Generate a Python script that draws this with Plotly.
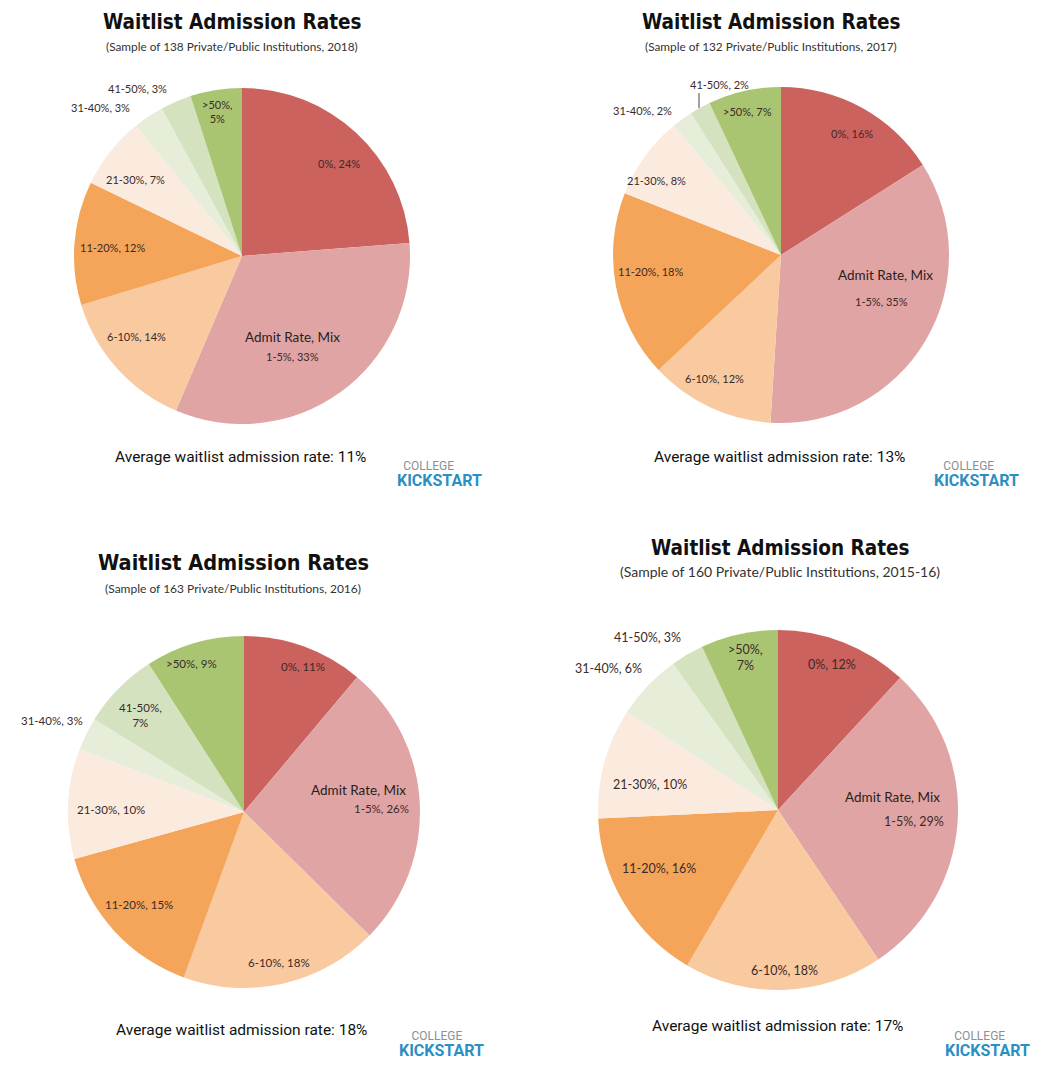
import plotly.graph_objects as go

W, H = 1049, 1070
OFF = 8  # browser body margin
FW, FH = W - 2 * OFF, H - 2 * OFF

categories = ["0%", "1-5%", "6-10%", "11-20%", "21-30%", "31-40%", "41-50%", ">50%"]
colors = ["#cc625e", "#e0a4a4", "#f9c9a0", "#f4a55a", "#fbebdf", "#e6eed9", "#d4e2c0", "#a9c572"]

values_2018 = [24, 33, 14, 12, 7, 3, 3, 5]
values_2017 = [16, 35, 12, 18, 8, 2, 2, 7]
values_2016 = [11, 26, 18, 15, 10, 3, 7, 9]
values_2015_16 = [12, 29, 18, 16, 10, 6, 3, 7]

subtitles = [
    "(Sample of 138 Private/Public Institutions, 2018)",
    "(Sample of 132 Private/Public Institutions, 2017)",
    "(Sample of 163 Private/Public Institutions, 2016)",
    "(Sample of 160 Private/Public Institutions, 2015-16)",
]
averages = [11, 13, 18, 17]
title_text = "Waitlist Admission Rates"
admit_caption = "Admit Rate, Mix"

# layout (pixel) settings per panel
panels = [
    dict(vals=values_2018, cx=242, cy=256, r=168, lfs=11, afs=13.5,
         title=(232, 22, 20.5), sub=(232, 47, 11.8), avg=(240, 457, 15.5),
         logo=(395, 474, 2),
         labels={0: (339, 164), 1: (292, 356), 2: (136, 336), 3: (112, 248), 4: (135, 179),
                 5: (100, 108), 6: (137, 88), 7: (217, 112)},
         admit=(292, 337), wrap={7}),
    dict(vals=values_2017, cx=781, cy=255, r=168, lfs=11, afs=13.5,
         title=(771, 22, 20.5), sub=(771, 47, 11.8), avg=(779, 457, 15.5),
         logo=(932, 474, 3),
         labels={0: (852, 133), 1: (881, 301), 2: (714, 378), 3: (650, 271), 4: (656, 181),
                 5: (642, 110), 6: (719, 84), 7: (747, 112)},
         admit=(885, 275), wrap=set(), leader=(699, 93, 699, 108)),
    dict(vals=values_2016, cx=244, cy=812, r=176, lfs=11.5, afs=13.5,
         title=(233, 562, 21.5), sub=(233, 588, 12), avg=(241, 1030, 15.5),
         logo=(397, 1044, 4),
         labels={0: (303, 666), 1: (381, 808), 2: (279, 962), 3: (139, 904), 4: (111, 809),
                 5: (52, 720), 6: (140, 715), 7: (191, 663)},
         admit=(358, 790), wrap={6}),
    dict(vals=values_2015_16, cx=778, cy=810, r=180, lfs=12.5, afs=13.5,
         title=(780, 548, 20.5), sub=(780, 571, 14), avg=(777, 1026, 15.5),
         logo=(943, 1044, 3),
         labels={0: (832, 664), 1: (914, 821), 2: (784, 970), 3: (659, 868), 4: (650, 784),
                 5: (608, 668), 6: (647, 637), 7: (745, 657)},
         admit=(892, 797), wrap={7}),
]

fig = go.Figure()
annotations = []
shapes = []


def px(x):
    return (x - OFF) / FW


def py(y):
    return 1 - (y - OFF) / FH


def ann(x, y, text, font, **kw):
    d = dict(x=px(x), y=py(y), xref="paper", yref="paper", showarrow=False, text=text, font=font,
             xanchor="center", yanchor="middle", align="center")
    d.update(kw)
    annotations.append(d)


for i, p in enumerate(panels):
    cx, cy, r = p["cx"], p["cy"], p["r"]
    fig.add_trace(go.Pie(
        labels=categories, values=p["vals"], sort=False, direction="clockwise", rotation=0,
        marker=dict(colors=colors, line=dict(width=0)),
        textinfo="none", hoverinfo="label+value", showlegend=False,
        domain=dict(x=[px(cx - r), px(cx + r)], y=[py(cy + r), py(cy - r)]),
    ))
    tx, ty, ts = p["title"]
    ann(tx, ty, "<b>" + title_text + "</b>",
        dict(family="DejaVu Sans Condensed, DejaVu Sans, sans-serif", size=ts, color="#111111"))
    sx, sy, ss = p["sub"]
    ann(sx, sy, subtitles[i], dict(family="Lato, Noto Sans, sans-serif", size=ss, color="#333333"))
    ax, ay, asz = p["avg"]
    ann(ax, ay, f"Average waitlist admission rate: {averages[i]}%",
        dict(family="Roboto, sans-serif", size=asz, color="#111111"))
    lgx, lgy, indent = p["logo"]
    logo_text = ("&nbsp;" * indent + "<span style='font-size:12px;color:#8a8f94'>COLLEGE</span><br>"
                 "<b><span style='font-size:16px;color:#2b8fc4'>KICKSTART</span></b>")
    ann(lgx, lgy, logo_text, dict(family="Roboto, sans-serif", size=12.5, color="#8a8f94"),
        xanchor="left", align="left")
    label_font = dict(family="Lato, Noto Sans, sans-serif", size=p["lfs"], color="#3b2a28")
    for k, cat in enumerate(categories):
        v = p["vals"][k]
        if k in p["wrap"]:
            txt = f"{cat},<br>{v}%"
        else:
            txt = f"{cat}, {v}%"
        lx, ly = p["labels"][k]
        ann(lx, ly, txt, label_font)
    ax1, ay1 = p["admit"]
    ann(ax1, ay1, admit_caption, dict(label_font, size=p["afs"], color="#2a1e1c"))
    if "leader" in p:
        x0, y0, x1, y1 = p["leader"]
        shapes.append(dict(type="line", xref="paper", yref="paper",
                           x0=px(x0), y0=py(y0), x1=px(x1), y1=py(y1),
                           line=dict(color="#444444", width=1)))

fig.update_layout(
    width=FW, height=FH, margin=dict(l=0, r=0, t=0, b=0),
    paper_bgcolor="white", plot_bgcolor="white",
    annotations=annotations, shapes=shapes,
)

fig.write_html("out.html")
